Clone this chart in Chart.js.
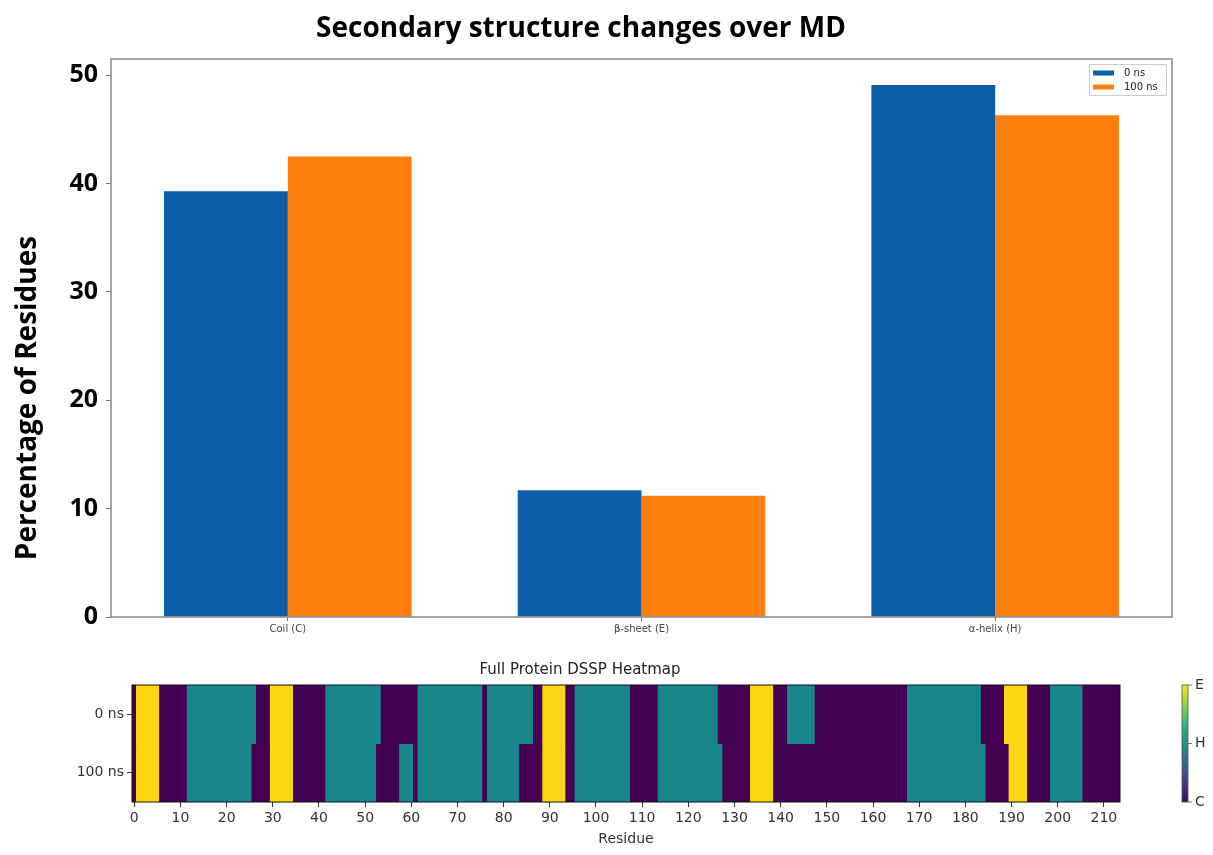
<!DOCTYPE html>
<html>
<head>
<meta charset="utf-8">
<script src="https://cdn.jsdelivr.net/npm/chart.js@4.4.1/dist/chart.umd.min.js"></script>
<style>
  body { margin: 0; background: #fff; }
  #wrap { position: relative; width: 1213px; height: 855px; }
  #barBox { position: absolute; left: 0; top: 0; width: 1213px; height: 650px; }
  #heatBox { position: absolute; left: 40px; top: 650px; width: 1173px; height: 205px; }
</style>
</head>
<body>
<div id="wrap">
  <div id="barBox"><canvas id="barChart"></canvas></div>
  <div id="heatBox"><canvas id="heatChart"></canvas></div>
</div>
<script>
// bar chart data
const categories = ['Coil (C)', 'β-sheet (E)', 'α-helix (H)'];
const pct0ns = [39.3, 11.7, 49.1];
const pct100ns = [42.5, 11.2, 46.3];
const yTicks = [0, 10, 20, 30, 40, 50];

// DSSP heatmap: runs of [first residue, last residue, state]
const frames = ['0 ns', '100 ns'];
const runs0ns = [
  [0, 0, 'C'], [1, 5, 'E'], [6, 11, 'C'], [12, 26, 'H'], [27, 29, 'C'], [30, 34, 'E'],
  [35, 41, 'C'], [42, 53, 'H'], [54, 61, 'C'], [62, 75, 'H'], [76, 76, 'C'], [77, 86, 'H'],
  [87, 88, 'C'], [89, 93, 'E'], [94, 95, 'C'], [96, 107, 'H'], [108, 113, 'C'], [114, 126, 'H'],
  [127, 133, 'C'], [134, 138, 'E'], [139, 141, 'C'], [142, 147, 'H'], [148, 167, 'C'],
  [168, 183, 'H'], [184, 188, 'C'], [189, 193, 'E'], [194, 198, 'C'], [199, 205, 'H'], [206, 213, 'C']
];
const runs100ns = [
  [0, 0, 'C'], [1, 5, 'E'], [6, 11, 'C'], [12, 25, 'H'], [26, 29, 'C'], [30, 34, 'E'],
  [35, 41, 'C'], [42, 52, 'H'], [53, 57, 'C'], [58, 60, 'H'], [61, 61, 'C'], [62, 75, 'H'],
  [76, 76, 'C'], [77, 83, 'H'], [84, 88, 'C'], [89, 93, 'E'], [94, 95, 'C'], [96, 107, 'H'],
  [108, 113, 'C'], [114, 127, 'H'], [128, 133, 'C'], [134, 138, 'E'], [139, 167, 'C'],
  [168, 184, 'H'], [185, 189, 'C'], [190, 193, 'E'], [194, 198, 'C'], [199, 205, 'H'], [206, 213, 'C']
];
const residueTicks = [0, 10, 20, 30, 40, 50, 60, 70, 80, 90, 100, 110, 120, 130, 140, 150, 160, 170, 180, 190, 200, 210];
const stateLabels = ['C', 'H', 'E'];

const stateColor = { C: '#440154', H: '#19868b', E: '#fcd711' };
const viridis = ['#440154', '#482475', '#414487', '#355f8d', '#2a788e', '#21918c',
                 '#22a884', '#44bf70', '#7ad151', '#bddf26', '#fde725'];

// --- plugins ---
const framePlugin = {
  id: 'frame',
  afterDraw(chart, args, opts) {
    const a = chart.chartArea, ctx = chart.ctx;
    ctx.save();
    ctx.strokeStyle = opts.color;
    ctx.lineWidth = opts.width;
    ctx.strokeRect(a.left, a.top, a.right - a.left, a.bottom - a.top);
    ctx.restore();
  }
};

const barDecor = {
  id: 'barDecor',
  afterDraw(chart) {
    const ctx = chart.ctx, a = chart.chartArea;
    ctx.save();
    // main title
    ctx.fillStyle = '#000';
    ctx.font = 'bold 28px "Open Sans"';
    ctx.textAlign = 'center';
    ctx.textBaseline = 'middle';
    ctx.fillText('Secondary structure changes over MD', 581, 29);
    // y title
    ctx.translate(28, 398);
    ctx.rotate(-Math.PI / 2);
    ctx.font = 'bold 28px "Open Sans"';
    ctx.fillText('Percentage of Residues', 0, 0);
    ctx.restore();

    // legend box top-right
    ctx.save();
    ctx.font = '10px "DejaVu Sans"';
    const ds = chart.data.datasets;
    const w = 77, h = 31;
    const x = a.right - 6 - w, y = a.top + 5;
    ctx.fillStyle = 'rgba(255,255,255,0.9)';
    ctx.fillRect(x, y, w, h);
    ctx.strokeStyle = '#ccc';
    ctx.lineWidth = 1;
    ctx.strokeRect(x + 0.5, y + 0.5, w, h);
    ds.forEach((d, i) => {
      const cy = y + 9 + i * 14;
      ctx.fillStyle = d.backgroundColor;
      ctx.fillRect(x + 4, cy - 2.5, 21, 5);
      ctx.fillStyle = '#222';
      ctx.textBaseline = 'middle';
      ctx.textAlign = 'left';
      ctx.fillText(d.label, x + 35, cy);
    });
    ctx.restore();
  }
};

const colorbar = {
  id: 'colorbar',
  afterDraw(chart) {
    const ctx = chart.ctx, a = chart.chartArea;
    const x = a.right + 62, w = 6;
    const top = a.top, bot = a.bottom;
    ctx.save();
    const g = ctx.createLinearGradient(0, bot, 0, top);
    viridis.forEach((c, i) => g.addColorStop(i / (viridis.length - 1), c));
    ctx.fillStyle = g;
    ctx.fillRect(x, top, w, bot - top);
    ctx.strokeStyle = '#555';
    ctx.lineWidth = 0.8;
    ctx.strokeRect(x, top, w, bot - top);
    ctx.fillStyle = '#333';
    ctx.font = '14px "DejaVu Sans"';
    ctx.textBaseline = 'middle';
    ctx.textAlign = 'left';
    stateLabels.forEach((s, i) => {
      const yy = bot - (bot - top) * i / (stateLabels.length - 1);
      ctx.beginPath();
      ctx.moveTo(x + w, yy);
      ctx.lineTo(x + w + 4, yy);
      ctx.stroke();
      ctx.fillText(s, x + w + 7, yy);
    });
    ctx.restore();
  }
};

// --- bar chart ---
new Chart(document.getElementById('barChart'), {
  type: 'bar',
  data: {
    labels: categories,
    datasets: [
      { label: '0 ns', data: pct0ns, backgroundColor: '#0a5fa8' },
      { label: '100 ns', data: pct100ns, backgroundColor: '#ff7f0e' }
    ]
  },
  options: {
    responsive: true,
    maintainAspectRatio: false,
    animation: false,
    categoryPercentage: 0.7,
    barPercentage: 1.0,
    layout: { padding: { top: 59, right: 41, left: 0, bottom: 0 } },
    plugins: {
      legend: { display: false },
      tooltip: { enabled: false },
      frame: { color: '#888', width: 1.5 }
    },
    scales: {
      x: {
        grid: { display: true, drawOnChartArea: false, offset: false, tickLength: 4, color: '#777' },
        border: { display: false },
        ticks: { font: { family: 'DejaVu Sans', size: 10 }, color: '#444', padding: 2 },
        afterFit(scale) { scale.height = 33; }
      },
      y: {
        min: 0,
        max: 51.5,
        grid: { display: true, drawOnChartArea: false, tickLength: 5, color: '#777' },
        border: { display: false },
        ticks: { font: { family: 'Open Sans', size: 25, weight: 'bold' }, color: '#000', padding: 8 },
        afterBuildTicks(scale) { scale.ticks = yTicks.map(v => ({ value: v })); },
        afterFit(scale) { scale.width = 111; }
      }
    }
  },
  plugins: [framePlugin, barDecor]
});

// --- heatmap ---
const heatSets = [runs0ns, runs100ns].map((runs, k) => ({
  label: frames[k],
  data: runs.map(r => ({ x: [r[0] - 0.5, r[1] + 0.5], y: frames[k] })),
  backgroundColor: runs.map(r => stateColor[r[2]]),
  borderWidth: 0,
  inflateAmount: 0.6,
  grouped: false
}));

new Chart(document.getElementById('heatChart'), {
  type: 'bar',
  data: { labels: frames, datasets: heatSets },
  options: {
    indexAxis: 'y',
    responsive: true,
    maintainAspectRatio: false,
    animation: false,
    categoryPercentage: 1.0,
    barPercentage: 1.0,
    layout: { padding: { top: 0, right: 93, left: 0, bottom: 0 } },
    plugins: {
      legend: { display: false },
      tooltip: { enabled: false },
      title: {
        display: true,
        text: 'Full Protein DSSP Heatmap',
        font: { family: 'DejaVu Sans', size: 15, weight: 'normal' },
        color: '#222',
        padding: { top: 11, bottom: 6 }
      },
      frame: { color: '#111', width: 1 }
    },
    scales: {
      x: {
        type: 'linear',
        min: -0.5,
        max: 213.5,
        grid: { display: true, drawOnChartArea: false, tickLength: 5, color: '#333' },
        border: { display: false },
        ticks: { font: { family: 'DejaVu Sans', size: 14 }, color: '#333', padding: 3 },
        afterBuildTicks(scale) { scale.ticks = residueTicks.map(v => ({ value: v })); },
        title: {
          display: true, text: 'Residue', color: '#333',
          font: { family: 'DejaVu Sans', size: 14 }, padding: { top: 0, bottom: 7 }
        },
        afterFit(scale) { scale.height = 53; }
      },
      y: {
        grid: { display: true, drawOnChartArea: false, offset: false, tickLength: 5, color: '#333' },
        border: { display: false },
        ticks: { font: { family: 'DejaVu Sans', size: 14 }, color: '#333', padding: 3 },
        afterFit(scale) { scale.width = 92; }
      }
    }
  },
  plugins: [framePlugin, colorbar]
});
</script>
</body>
</html>
